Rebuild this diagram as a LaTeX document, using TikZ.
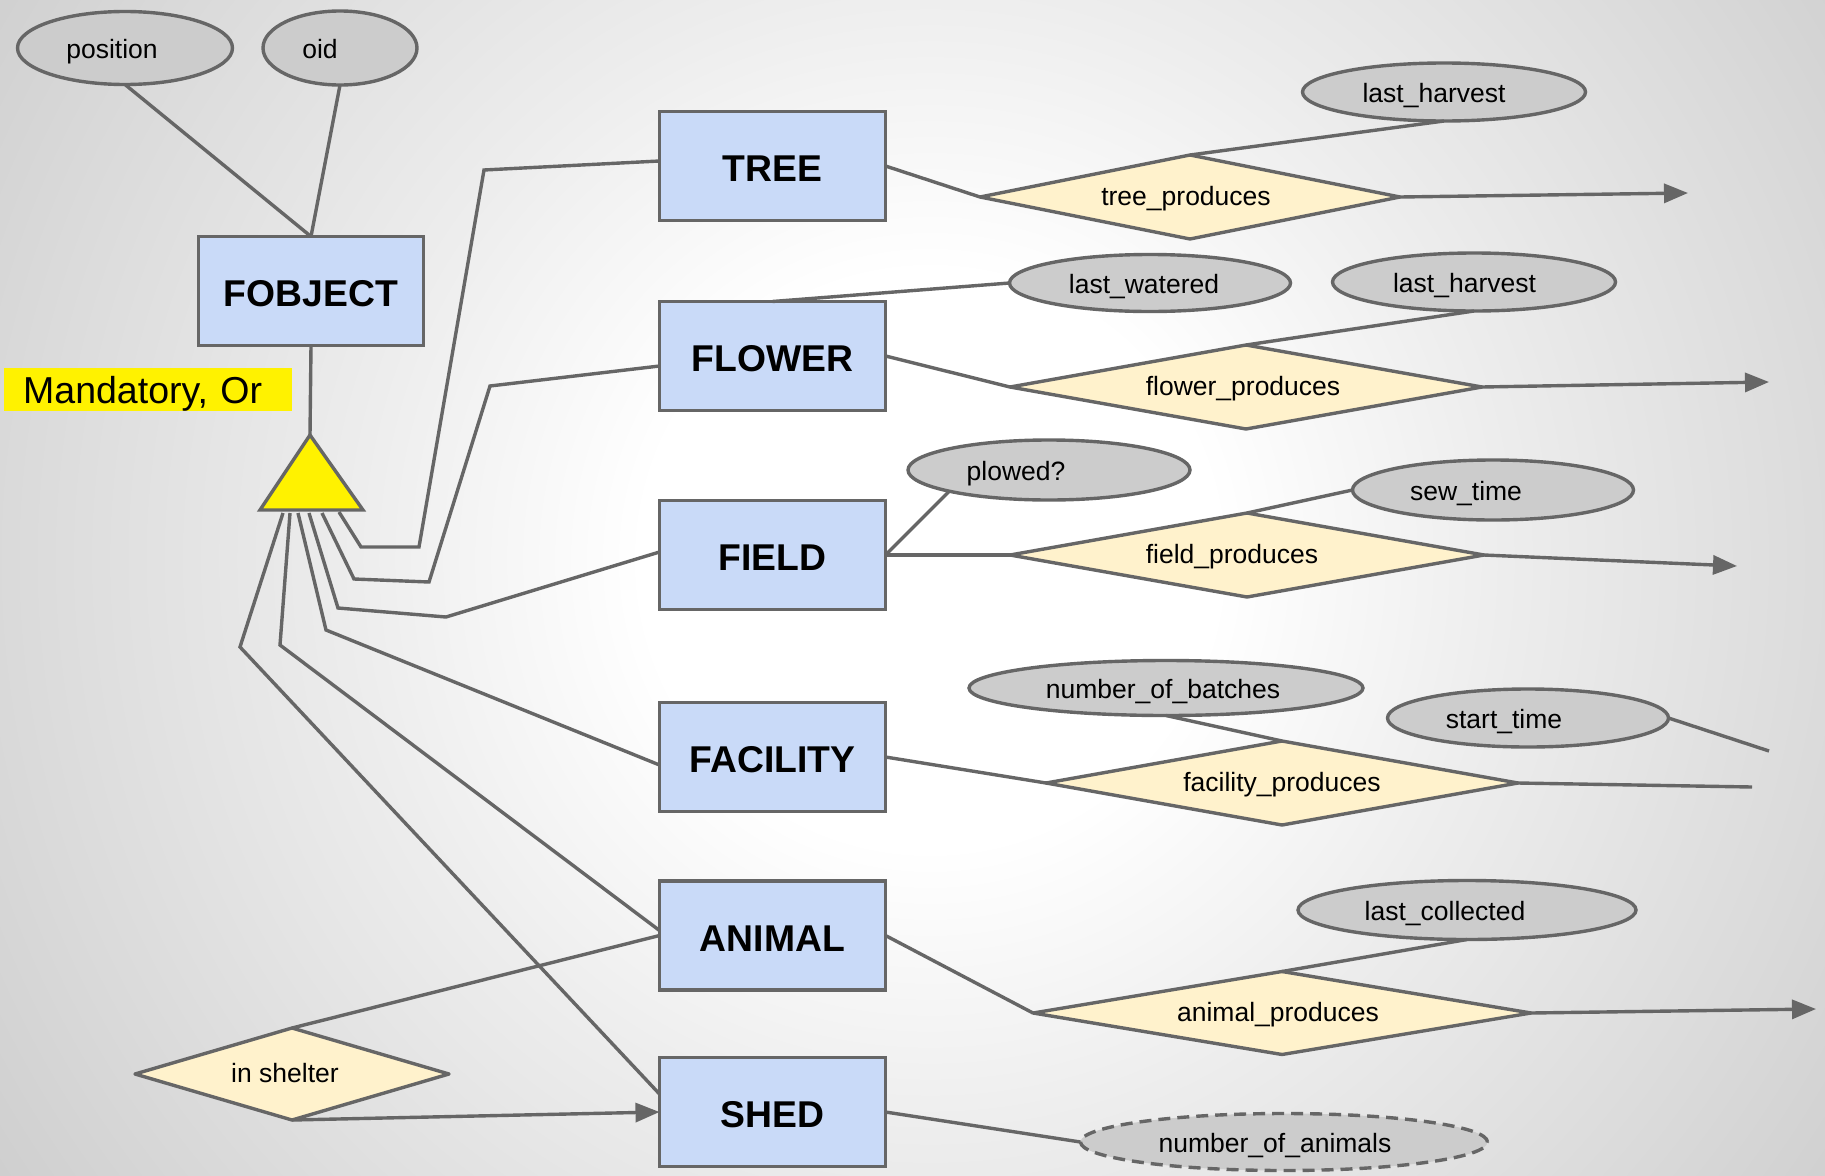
\documentclass[tikz,border=0pt]{standalone}
\usepackage{fontspec}
\setmainfont{Liberation Sans}
\usetikzlibrary{shapes.geometric,arrows.meta,calc}

\definecolor{edgegray}{HTML}{666666}
\definecolor{entfill}{HTML}{C9DAF8}
\definecolor{relfill}{HTML}{FFF2CC}
\definecolor{attfill}{HTML}{CCCCCC}
\definecolor{bgA}{HTML}{EDEDED}
\definecolor{bgB}{HTML}{DADADA}
\definecolor{bgC}{HTML}{CDCDCD}

\pgfdeclareradialshading{slidebg}{\pgfpoint{0bp}{0bp}}{%
  color(0bp)=(white); color(6.25bp)=(white); color(12.5bp)=(bgA);
  color(20bp)=(bgB); color(25bp)=(bgC); color(50bp)=(bgC)}

\tikzset{
  link/.style={draw=edgegray, line width=3.4pt},
  headed/.style={-{Triangle[length=24pt,width=19pt]}},
  entity/.style={draw=edgegray, fill=entfill, line width=3.4pt, rectangle,
    minimum width=226pt, minimum height=109pt, inner sep=0pt, outer sep=0pt,
    text height=31pt, text depth=0pt,
    font=\fontsize{37.3}{44}\selectfont\bfseries},
  attr/.style={draw=edgegray, fill=attfill, line width=3.4pt, ellipse,
    inner sep=0pt, outer sep=0pt, text height=24pt, text depth=2.4pt,
    font=\fontsize{26.5}{31}\selectfont},
  rel/.style={draw=edgegray, fill=relfill, line width=3.4pt, diamond,
    shape aspect=5.5, line join=round, inner sep=0pt, outer sep=0pt,
    text height=20pt, text depth=2.3pt,
    font=\fontsize{26.5}{31}\selectfont},
}

\begin{document}
\begin{tikzpicture}[x=1pt,y=-1pt]
  \useasboundingbox (0,0) rectangle (1825,1175);

  % slide background
  \fill[bgC] (0,0) rectangle (1825,1175);
  \begin{scope}
    \clip (0,0) rectangle (1825,1175);
    \shade[shading=slidebg] (930,560) circle (1150);
  \end{scope}

  % entities
  \node[entity, minimum width=225pt] (fobject)  at (311,291)    {FOBJECT};
  \node[entity] (tree)     at (772.5,166)  {TREE};
  \node[entity] (flower)   at (772.5,356)  {FLOWER};
  \node[entity] (field)    at (772.5,555)  {FIELD};
  \node[entity] (facility) at (772.5,757)  {FACILITY};
  \node[entity] (animal)   at (772.5,935.5){ANIMAL};
  \node[entity] (shed)     at (772.5,1112) {SHED};

  % attributes (trailing space keeps each label a little left of centre)
  \node[attr, minimum width=215pt, minimum height=73pt] (position) at (125,48) {position\hspace*{26pt}};
  \node[attr, minimum width=154pt, minimum height=74pt] (oid) at (340,48) {oid\hspace*{40pt}};
  \node[attr, minimum width=283pt, minimum height=58pt] (lharvA) at (1444,92) {last\_harvest\hspace*{20pt}};
  \node[attr, minimum width=281pt, minimum height=57pt] (lwater) at (1150,283) {last\_watered\hspace*{12pt}};
  \node[attr, minimum width=283pt, minimum height=58pt] (lharvB) at (1474,282) {last\_harvest\hspace*{19pt}};
  \node[attr, minimum width=282pt, minimum height=60pt] (plowed) at (1049,470) {plowed?\hspace*{66pt}};
  \node[attr, minimum width=281pt, minimum height=60pt] (sew) at (1493,490) {sew\_time\hspace*{54pt}};
  \node[attr, minimum width=394pt, minimum height=55pt] (batches) at (1166,688) {number\_of\_batches\hspace*{6pt}};
  \node[attr, minimum width=281pt, minimum height=58pt] (start) at (1528,718) {start\_time\hspace*{48pt}};
  \node[attr, minimum width=338pt, minimum height=59pt] (collected) at (1467,910) {last\_collected\hspace*{44pt}};
  \node[attr, dashed, dash pattern=on 12pt off 7pt, minimum width=407pt, minimum height=57pt] (nanimals) at (1284,1142) {number\_of\_animals\hspace*{18pt}};

  % relationships
  \node[rel, minimum width=420pt, minimum height=84pt] (treeprod) at (1190,197) {tree\_produces\hspace*{8pt}};
  \node[rel, minimum width=472pt, minimum height=84pt] (flowerprod) at (1246,387) {flower\_produces\hspace*{6pt}};
  \node[rel, minimum width=474pt, minimum height=84pt] (fieldprod) at (1247,555) {field\_produces\hspace*{30pt}};
  \node[rel, minimum width=472pt, minimum height=84pt] (facprod) at (1282,783) {facility\_produces};
  \node[rel, minimum width=498pt, minimum height=83pt] (animalprod) at (1282,1013) {animal\_produces\hspace*{8pt}};
  \node[rel, minimum width=314pt, minimum height=92pt] (shelter) at (292,1074) {in shelter\hspace*{14pt}};

  % note
  \node[fill=yellow, anchor=west, minimum height=43pt, text width=250pt,
        inner xsep=19pt, inner ysep=0pt, align=left, text depth=0pt,
        font=\fontsize{37.5}{44}\selectfont] (note) at (4,389.5) {Mandatory, Or};

  % ISA triangle
  \coordinate (triTop) at (310,435);
  \coordinate (triL) at (260,510);
  \coordinate (triR) at (363,510);
  \draw[link, fill=yellow] (triTop) -- (triR) -- (triL) -- cycle;

  % attribute links of FOBJECT
  \draw[link] (position.south) -- (fobject.north);
  \draw[link] (oid.south) -- (fobject.north);
  \draw[link] (fobject.south) -- (triTop);

  % specialisation links
  \coordinate (b1) at (339,512);
  \coordinate (b2) at (322,513);
  \coordinate (b3) at (309,513);
  \coordinate (b4) at (298,513);
  \coordinate (b5) at (290,513);
  \coordinate (b6) at (283,513);
  \draw[link] (b1) -- (361,547) -- (419,547) -- (484,170) -- ([yshift=5pt]tree.west);
  \draw[link] (b2) -- (354,579) -- (429,582) -- (490,386) -- ([yshift=-10pt]flower.west);
  \draw[link] (b3) -- (338,608) -- (446,617) -- ([yshift=3pt]field.west);
  \draw[link] (b4) -- (326,630) -- ([yshift=-8pt]facility.west);
  \draw[link] (b5) -- (280,645) -- ([yshift=5pt]animal.west);
  \draw[link] (b6) -- (240,647) -- ([yshift=18pt]shed.west);

  % in shelter
  \draw[link] (shelter.north) -- (animal.west);
  \draw[link, headed] (shelter.south) -- (shed.west);

  % TREE
  \coordinate (treeOut) at (1688,193);
  \draw[link] (tree.east) -- (treeprod.west);
  \draw[link] (treeprod.north) -- (lharvA.south);
  \draw[link, headed] (treeprod.east) -- (treeOut);

  % FLOWER
  \coordinate (flowerOut) at (1769,382);
  \draw[link] (flower.north) -- (lwater.west);
  \draw[link] (flower.east) -- (flowerprod.west);
  \draw[link] (flowerprod.north) -- (lharvB.south);
  \draw[link, headed] (flowerprod.east) -- (flowerOut);

  % FIELD
  \coordinate (fieldOut) at (1737,566);
  \draw[link] (field.east) -- (fieldprod.west);
  \draw[link] (field.east) -- (plowed.south west);
  \draw[link] (fieldprod.north) -- (sew.west);
  \draw[link, headed] (fieldprod.east) -- (fieldOut);

  % FACILITY
  \coordinate (facOut) at (1752,787);
  \coordinate (startOut) at (1769,751);
  \draw[link] (facility.east) -- (facprod.west);
  \draw[link] (batches.south) -- (facprod.north);
  \draw[link] (start.east) -- (startOut);
  \draw[link] (facprod.east) -- (facOut);

  % ANIMAL
  \coordinate (animalOut) at (1816,1009);
  \draw[link] (animal.east) -- (animalprod.west);
  \draw[link] (animalprod.north) -- (collected.south);
  \draw[link, headed] (animalprod.east) -- (animalOut);

  % SHED
  \draw[link] (shed.east) -- (nanimals.west);
\end{tikzpicture}
\end{document}
